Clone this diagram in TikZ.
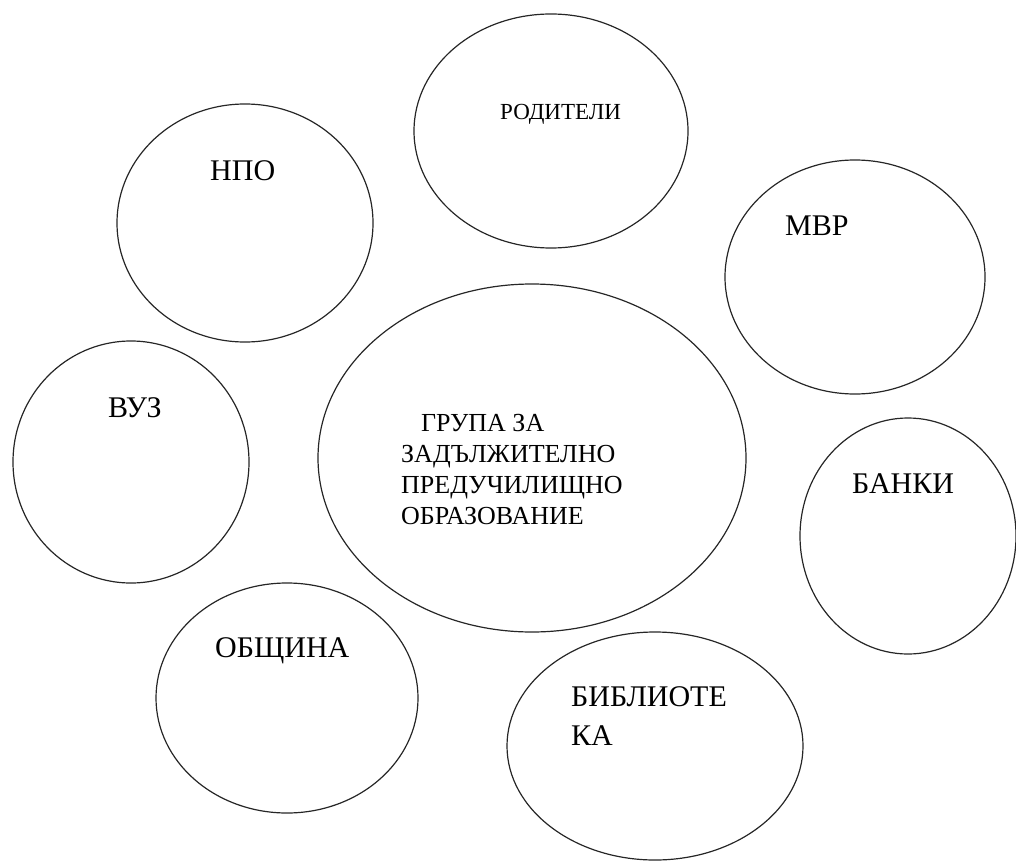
\documentclass[tikz,border=0pt]{standalone}
\usepackage{fontspec}
\setmainfont{LiberationSerif}[Extension=.ttf, UprightFont=*-Regular, BoldFont=*-Bold]
\usetikzlibrary{shapes}

\begin{document}
\begin{tikzpicture}[x=1pt, y=-1pt,
    bubble/.style={draw=black!85, line width=1.2pt, ellipse, inner sep=0pt},
    word/.style={inner sep=0pt, anchor=base west, font=\fontsize{30}{36}\selectfont}]

    \useasboundingbox (0,0) rectangle (1016,861);

    % middle group
    \node[bubble, minimum width=428pt, minimum height=348pt] (G) at (532,458) {};
    \node[inner sep=0pt, anchor=north west, align=left, font=\fontsize{26}{31}\selectfont] (Gt) at (401,413.8)
        {\hspace*{20pt}ГРУПА ЗА\\ЗАДЪЛЖИТЕЛНО\\ПРЕДУЧИЛИЩНО\\ОБРАЗОВАНИЕ};

    % partners around it
    \node[bubble, minimum width=274pt, minimum height=234pt] (R) at (551,131) {};
    \node[word, font=\fontsize{23}{28}\selectfont] (Rt) at (500,120) {РОДИТЕЛИ};

    \node[bubble, minimum width=256pt, minimum height=238pt] (N) at (245,223) {};
    \node[word] (Nt) at (210,181) {НПО};

    \node[bubble, minimum width=260pt, minimum height=234pt] (M) at (855,277) {};
    \node[word] (Mt) at (785,235) {МВР};

    \node[bubble, minimum width=236pt, minimum height=242pt] (V) at (131,462) {};
    \node[word] (Vt) at (108,417) {ВУЗ};

    \node[bubble, minimum width=216pt, minimum height=236pt] (B) at (908,536) {};
    \node[word] (Bt) at (852,493) {БАНКИ};

    \node[bubble, minimum width=262pt, minimum height=230pt] (O) at (287,698) {};
    \node[word] (Ot) at (215,657) {ОБЩИНА};

    \node[bubble, minimum width=296pt, minimum height=228pt] (L) at (655,746) {};
    \node[inner sep=0pt, anchor=north west, align=left, font=\fontsize{30}{39}\selectfont] (Lt) at (571,686)
        {БИБЛИОТЕ\\КА};

\end{tikzpicture}
\end{document}
